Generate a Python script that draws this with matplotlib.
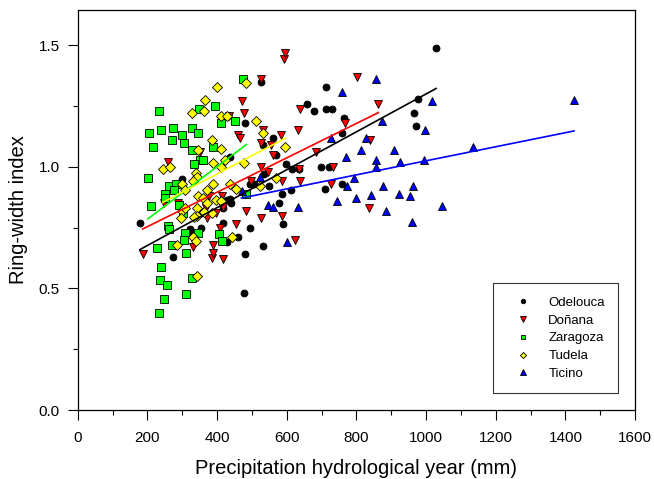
import numpy as np
import matplotlib
matplotlib.use("Agg")
import matplotlib.pyplot as plt
from matplotlib.ticker import MultipleLocator

plt.rcParams['font.family'] = ['Liberation Sans', 'DejaVu Sans']

# Odelouca (black circles)
odelouca_x = [178, 272, 298, 321, 330, 355, 355, 413, 416, 416, 427, 427, 436, 441, 436,
              461, 476, 479, 479, 493, 493, 507, 525, 533, 536, 533, 550, 559, 568, 579,
              585, 588, 599, 611, 616, 634, 657, 679, 697, 711, 714, 714, 720, 731, 765,
              760, 760, 978, 966, 972, 1029]
odelouca_y = [0.77, 0.63, 0.95, 0.745, 0.73, 0.75, 0.81, 0.856, 0.83, 0.77, 0.864, 0.69, 0.868,
              0.85, 1.04, 0.71, 0.48, 0.64, 1.18, 0.75, 0.93, 0.93, 1.35, 1.09, 0.97, 0.675,
              0.92, 1.12, 1.05, 0.85, 0.89, 0.765, 1.01, 0.905, 0.99, 0.99, 1.26, 1.23, 1.00,
              0.91, 1.33, 1.24, 1.00, 1.24, 1.20, 1.14, 0.93, 1.28, 1.22, 1.17, 1.49]

# Doñana (red down triangles)
donana_x = [186, 247, 258, 287, 330, 350, 367, 370, 378, 384, 387, 387, 398, 407, 413, 416,
            416, 433, 453, 459, 467, 470, 476, 482, 496, 527, 527, 527, 527, 533, 545, 556,
            560, 582, 585, 585, 593, 596, 625, 631, 634, 639, 639, 685, 728, 734, 768, 803,
            837, 840, 863]
donana_y = [0.64, 0.85, 1.02, 0.85, 0.67, 1.06, 0.83, 0.79, 0.88, 0.625, 0.645, 0.68, 0.81,
            0.75, 0.88, 0.835, 0.62, 1.21, 0.765, 1.13, 1.12, 1.27, 1.22, 0.82, 0.94, 1.36,
            1.10, 1.00, 0.79, 1.15, 0.98, 1.09, 1.05, 1.13, 0.94, 0.80, 1.445, 1.47, 0.70,
            1.15, 0.99, 1.24, 0.94, 1.06, 0.93, 1.00, 1.18, 1.37, 0.83, 1.11, 1.26]

# Zaragoza (green squares)
zaragoza_x = [473, 232, 393, 347, 450, 410, 204, 238, 272, 327, 344, 298, 270, 304, 215, 327,
              387, 350, 358, 333, 201, 261, 281, 275, 249, 249, 290, 209, 301, 484, 258, 261,
              307, 304, 344, 270, 226, 312, 404, 413, 238, 235, 255, 327, 247, 310, 232]
zaragoza_y = [1.36, 1.23, 1.25, 1.24, 1.19, 1.18, 1.14, 1.15, 1.16, 1.16, 1.14, 1.13, 1.11,
              1.10, 1.08, 1.07, 1.08, 1.03, 1.03, 1.01, 0.955, 0.92, 0.93, 0.905, 0.89, 0.87,
              0.845, 0.84, 0.81, 0.89, 0.755, 0.745, 0.73, 0.70, 0.73, 0.68, 0.667, 0.645,
              0.725, 0.695, 0.59, 0.535, 0.515, 0.543, 0.457, 0.477, 0.40]

# Tudela (yellow diamonds)
tudela_x = [401, 364, 327, 361, 410, 427, 482, 513, 533, 384, 410, 344, 596, 387, 410, 424,
            476, 244, 264, 338, 341, 330, 387, 298, 436, 453, 307, 522, 568, 370, 344, 358,
            396, 370, 410, 384, 341, 298, 307, 341, 361, 330, 338, 284, 444, 341, 295, 335]
tudela_y = [1.33, 1.275, 1.22, 1.23, 1.21, 1.21, 1.345, 1.19, 1.14, 1.11, 1.075, 1.07, 1.08,
            1.015, 1.00, 1.03, 1.015, 0.99, 1.00, 0.975, 0.96, 0.94, 0.93, 0.93, 0.93, 0.91,
            0.905, 0.92, 0.955, 0.905, 0.88, 0.87, 0.864, 0.85, 0.86, 0.81, 0.83, 0.82, 0.83,
            0.80, 0.815, 0.71, 0.695, 0.68, 0.71, 0.55, 0.79, 0.795]

# Ticino (blue up triangles)
ticino_x = [470, 522, 545, 559, 602, 631, 728, 745, 760, 771, 774, 794, 800, 814, 828, 843,
            857, 857, 857, 872, 877, 886, 909, 923, 926, 955, 960, 963, 995, 998, 1018, 1046,
            1135, 1425]
ticino_y = [0.90, 0.96, 0.845, 0.835, 0.69, 0.835, 1.12, 0.86, 1.31, 1.04, 0.92, 0.955, 0.87,
            1.07, 1.12, 0.885, 1.36, 1.03, 1.00, 1.19, 0.92, 0.82, 1.07, 0.89, 1.02, 0.88,
            0.775, 0.92, 1.03, 1.15, 1.27, 0.84, 1.08, 1.275]

# regression lines: (slope, intercept)
fit_odelouca = (0.000779, 0.521)
fit_donana = (0.000707, 0.613)
fit_zaragoza = (0.00108, 0.569)
fit_tudela = (0.00075, 0.671)
fit_ticino = (0.000289, 0.736)

series = [
    ("Odelouca", odelouca_x, odelouca_y, fit_odelouca, "black", "o", 5.0),
    ("Doñana", donana_x, donana_y, fit_donana, "#ff0000", "v", 6.0),
    ("Zaragoza", zaragoza_x, zaragoza_y, fit_zaragoza, "#00ff00", "s", 5.2),
    ("Tudela", tudela_x, tudela_y, fit_tudela, "#ffff00", "D", 4.8),
    ("Ticino", ticino_x, ticino_y, fit_ticino, "#0000ff", "^", 6.0),
]

fig = plt.figure(figsize=(6.54, 4.79), dpi=100)
ax = fig.add_axes([0.119, 0.144, 0.852, 0.835])

handles = []
for name, xs, ys, fit, col, mk, ms in series:
    h, = ax.plot(xs, ys, linestyle="none", marker=mk, markersize=ms,
                 markerfacecolor=col, markeredgecolor="black", markeredgewidth=0.6,
                 label=name, zorder=2)
    handles.append(h)
    # fitted line over the range of the data
    xl = np.array([min(xs), max(xs)])
    ax.plot(xl, fit[0] * xl + fit[1], color=col, linewidth=1.2, zorder=3)

ax.set_xlim(0, 1600)
ax.set_ylim(0, 1.645)
ax.xaxis.set_major_locator(MultipleLocator(200))
ax.xaxis.set_minor_locator(MultipleLocator(100))
ax.yaxis.set_major_locator(MultipleLocator(0.5))
ax.yaxis.set_minor_locator(MultipleLocator(0.25))
ax.yaxis.set_major_formatter(plt.FormatStrFormatter("%.1f"))
ax.tick_params(which="major", direction="out", length=7, width=0.8, labelsize=11)
ax.tick_params(axis="x", which="major", pad=8)
ax.tick_params(axis="y", which="major", pad=6)
ax.tick_params(which="minor", direction="out", length=3.5, width=0.8)
for sp in ax.spines.values():
    sp.set_linewidth(0.9)

ax.set_xlabel("Precipitation hydrological year (mm)", fontsize=14.5, labelpad=10)
ax.set_ylabel("Ring-width index", fontsize=14.5, labelpad=8)

leg = ax.legend(handles=handles, loc="lower right", bbox_to_anchor=(0.9695, 0.042),
                fontsize=9.5, frameon=True, fancybox=False, edgecolor="black",
                markerscale=0.65, handletextpad=0.7, labelspacing=0.42, borderpad=1.0,
                handlelength=2.5, borderaxespad=0)
leg.get_frame().set_linewidth(0.8)

fig.savefig("out.png", dpi=100)
